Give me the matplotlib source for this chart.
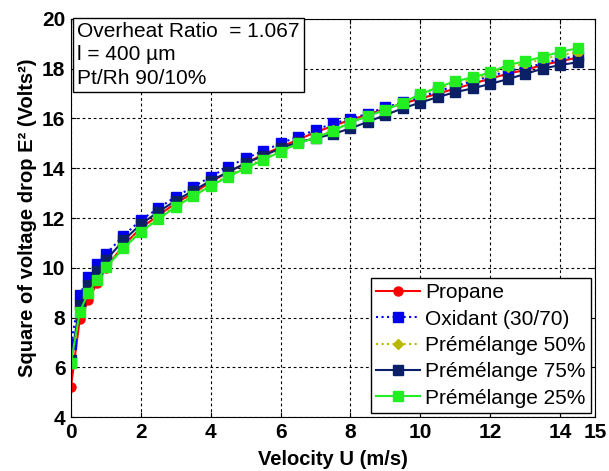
import numpy as np
import matplotlib.pyplot as plt

plt.rcParams['font.family'] = ['Liberation Sans', 'DejaVu Sans']

# Velocity U (m/s)
u = [0, 0.25, 0.5, 0.75, 1, 1.5, 2, 2.5, 3, 3.5, 4, 4.5, 5, 5.5, 6, 6.5, 7,
     7.5, 8, 8.5, 9, 9.5, 10, 10.5, 11, 11.5, 12, 12.5, 13, 13.5, 14, 14.5]

# E^2 (Volts^2) for each gas
propane = [5.22, 7.93, 8.70, 9.40, 10.00, 10.90, 11.60, 12.10, 12.60, 13.00,
           13.45, 13.85, 14.20, 14.55, 14.85, 15.15, 15.45, 15.70, 15.95, 16.15,
           16.40, 16.60, 16.80, 17.00, 17.20, 17.40, 17.60, 17.80, 17.95, 18.15,
           18.30, 18.45]
oxidant = [6.93, 8.90, 9.64, 10.14, 10.55, 11.28, 11.92, 12.39, 12.86, 13.25,
           13.66, 14.06, 14.40, 14.69, 15.00, 15.27, 15.54, 15.80, 15.98, 16.20,
           16.45, 16.65, 16.85, 17.10, 17.30, 17.50, 17.70, 17.90, 18.05, 18.20,
           18.40, 18.50]
prem50 = [6.20, 8.30, 9.10, 9.60, 10.10, 10.85, 11.50, 12.00, 12.50, 12.92,
          13.33, 13.70, 14.05, 14.38, 14.70, 15.00, 15.25, 15.52, 15.85, 16.12,
          16.36, 16.64, 16.95, 17.20, 17.42, 17.58, 17.78, 18.05, 18.20, 18.38,
          18.55, 18.65]
prem75 = [6.30, 8.50, 9.30, 9.85, 10.30, 11.10, 11.75, 12.25, 12.70, 13.10,
          13.50, 13.85, 14.20, 14.50, 14.80, 15.05, 15.20, 15.38, 15.60, 15.87,
          16.14, 16.41, 16.64, 16.86, 17.06, 17.21, 17.39, 17.58, 17.79, 18.00,
          18.15, 18.26]
prem25 = [6.18, 8.23, 9.00, 9.51, 10.02, 10.78, 11.45, 11.95, 12.46, 12.88,
          13.29, 13.66, 14.00, 14.33, 14.67, 15.00, 15.23, 15.50, 15.83, 16.10,
          16.34, 16.64, 16.98, 17.25, 17.50, 17.65, 17.85, 18.15, 18.30, 18.48,
          18.68, 18.82]

fig = plt.figure(figsize=(6.09, 4.71), dpi=100)
ax = fig.add_axes([0.1166, 0.1146, 0.8604, 0.8451])

ax.plot(u, propane, '-o', color='red', lw=1.5, ms=6.5, label='Propane')
ax.plot(u, oxidant, ':s', color='#0000ee', lw=1.5, ms=6.5, label='Oxidant (30/70)')
ax.plot(u, prem50, ':D', color='#b8b800', lw=1.5, ms=5.5, label='Prémélange 50%')
ax.plot(u, prem75, '-s', color='#0a1f66', lw=1.5, ms=6.5, label='Prémélange 75%')
ax.plot(u, prem25, '-s', color='#22ee22', lw=1.5, ms=6.5, label='Prémélange 25%')

ax.set_xlim(0, 15)
ax.set_ylim(4, 20)
ax.set_xticks([0, 2, 4, 6, 8, 10, 12, 14, 15])
ax.set_yticks(np.arange(4, 21, 2))
ax.tick_params(direction='in', top=True, right=True, labelsize=15, pad=4)
for lbl in ax.get_xticklabels() + ax.get_yticklabels():
    lbl.set_fontweight('bold')
ax.grid(True, color='black', linestyle=(0, (2.5, 2.5)), linewidth=0.8)

ax.set_xlabel('Velocity U (m/s)', fontsize=14.5, fontweight='bold', labelpad=6)
ax.set_ylabel('Square of voltage drop E² (Volts²)', fontsize=14.5,
              fontweight='bold', labelpad=4)

ax.text(0.012, 0.993, 'Overheat Ratio  = 1.067\nl = 400 µm\nPt/Rh 90/10%',
        transform=ax.transAxes, ha='left', va='top', fontsize=15,
        linespacing=1.3,
        bbox=dict(boxstyle='square,pad=0.2', facecolor='white',
                  edgecolor='black', linewidth=1))

leg = ax.legend(loc='lower right', fontsize=15, handlelength=2.1,
                handletextpad=0.25, borderpad=0.25, labelspacing=0.35,
                fancybox=False, framealpha=1, edgecolor='black',
                borderaxespad=0.2)
leg.get_frame().set_linewidth(1)

fig.savefig('out.png', dpi=100)
